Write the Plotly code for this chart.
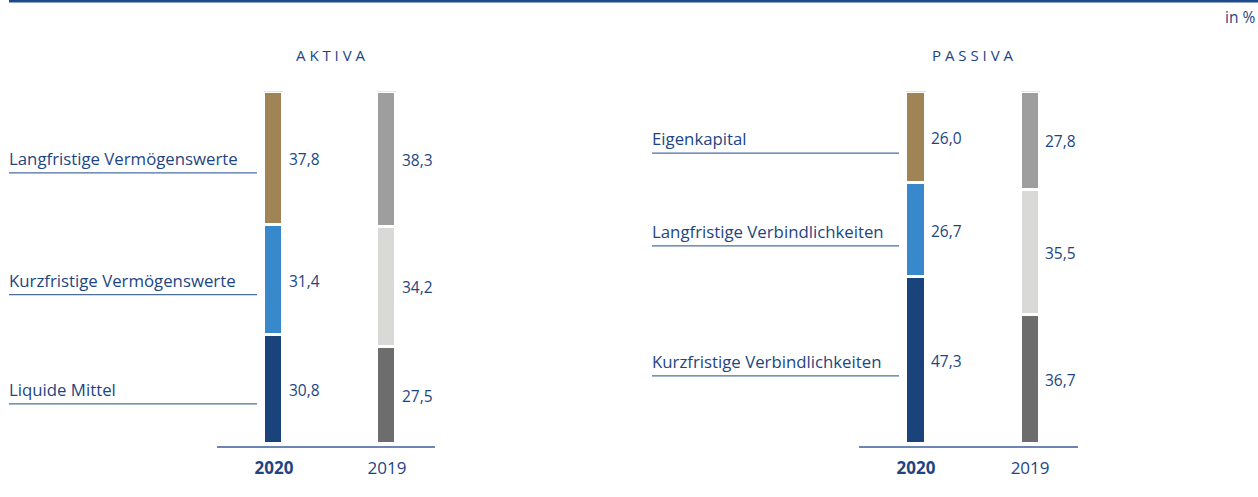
import plotly.graph_objects as go

W, H = 1258, 497

years = ["2020", "2019"]
year_labels = ["<b>2020</b>", "2019"]

# bottom -> top
aktiva_cats = ["Liquide Mittel", "Kurzfristige Vermögenswerte", "Langfristige Vermögenswerte"]
aktiva_2020 = [30.8, 31.4, 37.8]
aktiva_2019 = [27.5, 34.2, 38.3]

passiva_cats = ["Kurzfristige Verbindlichkeiten", "Langfristige Verbindlichkeiten", "Eigenkapital"]
passiva_2020 = [47.3, 26.7, 26.0]
passiva_2019 = [36.7, 35.5, 27.8]

colors_2020 = ["#1a437c", "#3889cb", "#a08455"]
colors_2019 = ["#6d6d6d", "#d9d9d8", "#9d9e9d"]

TXT = "#1d4583"
FONT = "Open Sans"


def px_x(p):
    return p / W


def px_y(p):
    return 1 - p / H


def fmt(v):
    return f"{v:.1f}".replace(".", ",")


fig = go.Figure()
annotations = []
shapes = []

panels = [
    dict(cats=aktiva_cats, v20=aktiva_2020, v19=aktiva_2019, xa="x", ya="y",
         lab_x0=9, lab_x1=257, label_shift=-1, line_shift=-15, title="A K T I V A", title_x=330.5),
    dict(cats=passiva_cats, v20=passiva_2020, v19=passiva_2019, xa="x2", ya="y2",
         lab_x0=652, lab_x1=899, label_shift=-1.5, line_shift=-16, title="P A S S I V A", title_x=972.5),
]

for p in panels:
    cum20, cum19 = 0.0, 0.0
    for i, cat in enumerate(p["cats"]):
        a, b = p["v20"][i], p["v19"][i]
        fig.add_trace(go.Bar(
            x=years, y=[a, b], name=cat, xaxis=p["xa"], yaxis=p["ya"],
            width=19 / 113,
            marker=dict(color=[colors_2020[i], colors_2019[i]], line=dict(color="white", width=3)),
            hoverinfo="skip", showlegend=False,
        ))
        mid20 = cum20 + a / 2
        mid19 = cum19 + b / 2
        for xi, mid, v in [(0, mid20, a), (1, mid19, b)]:
            annotations.append(dict(
                x=xi, y=mid, xref=p["xa"], yref=p["ya"], text=fmt(v), showarrow=False,
                xanchor="left", yanchor="middle", xshift=13, yshift=-1,
                font=dict(family=FONT, size=15.5, color=TXT),
            ))
        annotations.append(dict(
            x=px_x(p["lab_x0"] - 2), y=mid20, xref="paper", yref=p["ya"], text=cat, showarrow=False,
            xanchor="left", yanchor="middle", yshift=p["label_shift"],
            font=dict(family=FONT, size=16.8, color=TXT),
        ))
        shapes.append(dict(
            type="line", xref="paper", yref=p["ya"], ysizemode="pixel", yanchor=mid20,
            x0=px_x(p["lab_x0"]), x1=px_x(p["lab_x1"]), y0=p["line_shift"], y1=p["line_shift"],
            line=dict(color="#4d6ea3", width=1.3),
        ))
        cum20 += a
        cum19 += b
    annotations.append(dict(
        x=px_x(p["title_x"]), y=px_y(55), xref="paper", yref="paper", text=p["title"],
        showarrow=False, xanchor="center", yanchor="middle",
        font=dict(family=FONT, size=15, color=TXT),
    ))

annotations.append(dict(
    x=px_x(1257), y=px_y(17), xref="paper", yref="paper", text="in %", showarrow=False,
    xanchor="right", yanchor="middle", font=dict(family=FONT, size=15.5, color=TXT),
))

shapes.append(dict(
    type="line", xref="paper", yref="paper", x0=px_x(9), x1=1, y0=px_y(1), y1=px_y(1),
    line=dict(color="#1f4a8a", width=3),
))

ydom = [px_y(445.5), px_y(91.5)]
yrange = [-0.71, 100]
xcommon = dict(
    type="category", showline=True, linecolor="#6c86b4", linewidth=1.5, ticks="",
    showgrid=False, zeroline=False, tickmode="array", tickvals=years, ticktext=year_labels,
    tickfont=dict(family=FONT, size=17, color=TXT), ticklabelstandoff=6,
)
ycommon = dict(range=yrange, domain=ydom, showgrid=False, zeroline=False,
               showticklabels=False, showline=False, ticks="")

fig.update_layout(
    width=W, height=H, margin=dict(l=0, r=0, t=0, b=0),
    paper_bgcolor="white", plot_bgcolor="white",
    barmode="stack", bargap=0,
    xaxis=dict(domain=[px_x(217), px_x(435)], range=[-0.504, 1.425], anchor="y", **xcommon),
    yaxis=dict(anchor="x", **ycommon),
    xaxis2=dict(domain=[px_x(859), px_x(1078)], range=[-0.5, 1.42], anchor="y2", **xcommon),
    yaxis2=dict(anchor="x2", **ycommon),
    annotations=annotations, shapes=shapes,
    font=dict(family=FONT, color=TXT),
)

fig.write_html("out.html")
